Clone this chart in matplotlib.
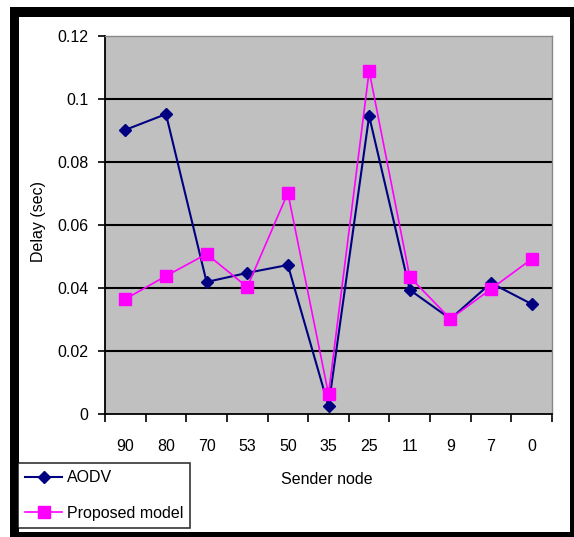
import matplotlib
matplotlib.use("Agg")
import matplotlib.pyplot as plt
from matplotlib.patches import Rectangle

categories = ["90", "80", "70", "53", "50", "35", "25", "11", "9", "7", "0"]
aodv = [0.0902, 0.0952, 0.0419, 0.0448, 0.0473, 0.0025, 0.0946, 0.0394, 0.0302, 0.0416, 0.0349]
proposed = [0.0365, 0.0438, 0.0508, 0.0403, 0.0702, 0.0063, 0.1089, 0.0435, 0.0302, 0.0397, 0.0492]
yticks = [0, 0.02, 0.04, 0.06, 0.08, 0.1, 0.12]
ytick_labels = ["0", "0.02", "0.04", "0.06", "0.08", "0.1", "0.12"]

plt.rcParams['font.family'] = ['Liberation Sans', 'DejaVu Sans']
FS = 11.5

W, H = 574, 537
fig = plt.figure(figsize=(W / 100, H / 100), dpi=100)

def fx(x):
    return x / W

def fy(y):
    return 1 - y / H

# outer frame
fig.add_artist(Rectangle((fx(10), fy(537)), fx(564), 530 / H, transform=fig.transFigure,
                         facecolor="black", edgecolor="none", zorder=0))
fig.add_artist(Rectangle((fx(19), fy(532)), fx(551), 515 / H, transform=fig.transFigure,
                         facecolor="white", edgecolor="none", zorder=0))

left, right, top, bottom = 105, 552, 36, 414
ax = fig.add_axes([fx(left), fy(bottom), fx(right - left), (bottom - top) / H])
ax.set_facecolor("#c0c0c0")

x = list(range(len(categories)))
ax.plot(x, aodv, color="#000080", lw=1.5, marker="D", markersize=6.5,
        markerfacecolor="#000080", markeredgecolor="#000080", label="AODV", zorder=3)
ax.plot(x, proposed, color="#ff00ff", lw=1.2, marker="s", markersize=8,
        markerfacecolor="#ff00ff", markeredgecolor="#ff00ff", label="Proposed model", zorder=4)

ax.set_xlim(-0.5, len(categories) - 0.5)
ax.set_ylim(0, 0.12)
ax.set_yticks(yticks)
ax.set_yticklabels(ytick_labels)
ax.set_xticks(x)
ax.set_xticklabels(categories)
ax.set_xticks([i - 0.5 for i in range(len(categories) + 1)], minor=True)
ax.tick_params(axis="x", which="major", length=0, pad=18, labelsize=FS)
ax.tick_params(axis="x", which="minor", length=6, width=1.2, direction="out")
ax.tick_params(axis="y", length=5, width=1.2, direction="out", pad=7, labelsize=FS)

for yv in yticks[1:-1]:
    ax.axhline(yv, color="black", lw=1.5, zorder=1)

for side in ["top", "right"]:
    ax.spines[side].set_color("#888888")
    ax.spines[side].set_linewidth(1)
for side in ["left", "bottom"]:
    ax.spines[side].set_color("black")
    ax.spines[side].set_linewidth(1.3)

fig.text(fx(327), fy(480), "Sender node", ha="center", va="center", fontsize=FS)
fig.text(fx(38), fy(222), "Delay (sec)", ha="center", va="center", rotation=90, fontsize=FS)

leg = fig.legend(loc="upper left", bbox_to_anchor=(fx(18), fy(463)), bbox_transform=fig.transFigure,
                 fancybox=False, frameon=True, fontsize=FS, handlelength=2.3, handletextpad=0.3,
                 labelspacing=1.3, borderpad=0.45, borderaxespad=0)
leg.get_frame().set_edgecolor("black")
leg.get_frame().set_linewidth(1.2)
leg.get_frame().set_facecolor("white")

fig.savefig("out.png", dpi=100)
